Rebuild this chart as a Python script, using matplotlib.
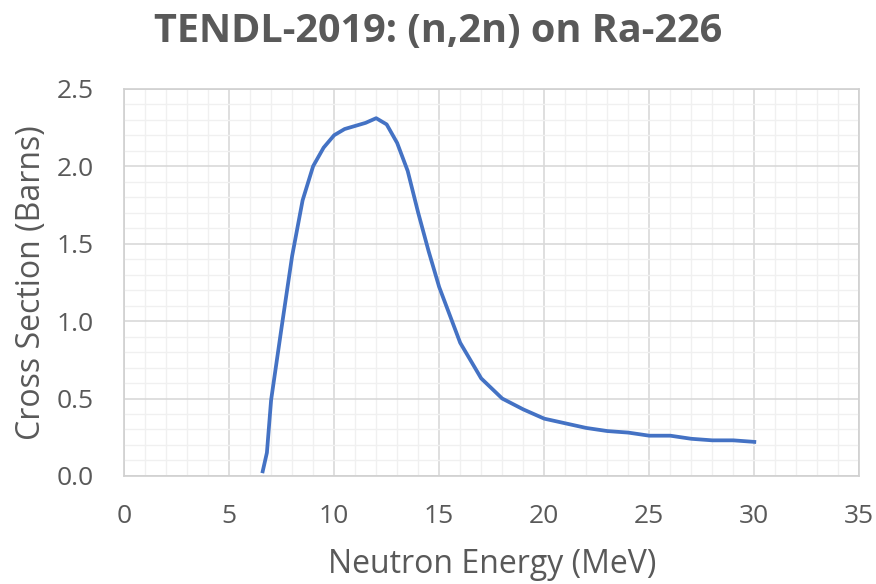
import matplotlib.pyplot as plt
from matplotlib.ticker import MultipleLocator

energy = [6.6, 6.8, 7.0, 7.5, 8.0, 8.5, 9.0, 9.5, 10.0, 10.5, 11.0, 11.5, 12.0,
          12.5, 13.0, 13.5, 14.0, 14.5, 15.0, 16.0, 17.0, 18.0, 19.0, 20.0,
          21.0, 22.0, 23.0, 24.0, 25.0, 26.0, 27.0, 28.0, 29.0, 30.0]
xs = [0.03, 0.15, 0.49, 0.96, 1.42, 1.78, 2.00, 2.12, 2.20, 2.24, 2.26, 2.28, 2.31,
      2.27, 2.15, 1.97, 1.70, 1.45, 1.22, 0.86, 0.63, 0.50, 0.43, 0.37,
      0.34, 0.31, 0.29, 0.28, 0.26, 0.26, 0.24, 0.23, 0.23, 0.22]

plt.rcParams['font.family'] = ['Open Sans', 'DejaVu Sans']
text_color = '#595959'

fig = plt.figure(figsize=(8.76, 5.84), dpi=100)
ax = fig.add_axes([0.1416, 0.185, 0.8394, 0.663])

ax.plot(energy, xs, color='#4472C4', linewidth=2.7, solid_joinstyle='round', zorder=3)

ax.set_xlim(0, 35)
ax.set_ylim(0, 2.5)
ax.xaxis.set_major_locator(MultipleLocator(5))
ax.xaxis.set_minor_locator(MultipleLocator(1))
ax.yaxis.set_major_locator(MultipleLocator(0.5))
ax.yaxis.set_minor_locator(MultipleLocator(0.1))
ax.yaxis.set_major_formatter(plt.FormatStrFormatter('%.1f'))

ax.grid(which='major', color='#d9d9d9', linewidth=1.2, zorder=0)
ax.grid(which='minor', color='#f0f0f0', linewidth=1.0, zorder=0)
ax.set_axisbelow(True)
for s in ax.spines.values():
    s.set_color('#d0d0d0')
    s.set_linewidth(1.2)

ax.tick_params(which='both', length=0, colors=text_color, labelsize=19)
ax.tick_params(axis='x', pad=20)
ax.tick_params(axis='y', pad=22)

ax.set_xlabel('Neutron Energy (MeV)', fontsize=23, color=text_color, labelpad=14)
ax.set_ylabel('Cross Section (Barns)', fontsize=23, color=text_color, labelpad=6)
fig.suptitle('TENDL-2019: (n,2n) on Ra-226', fontsize=28.5, fontweight='bold',
             color=text_color, y=0.98)

fig.savefig('out.png', dpi=100)
